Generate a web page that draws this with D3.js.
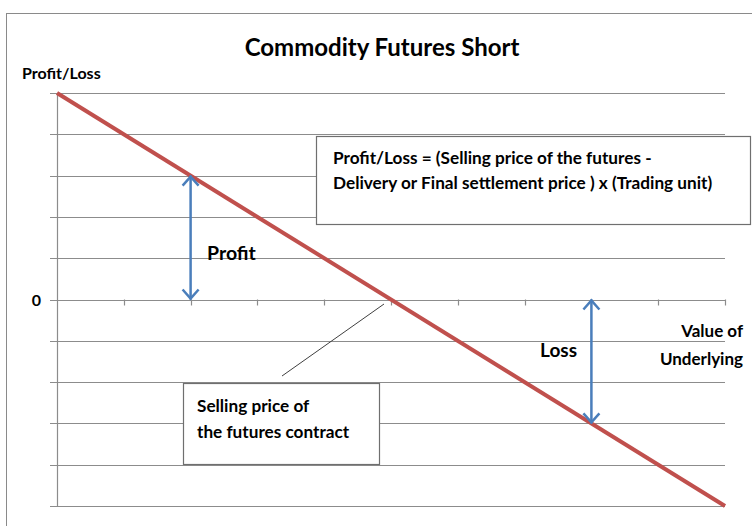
<!DOCTYPE html>
<html>
<head>
<meta charset="utf-8">
<script src="https://cdn.jsdelivr.net/npm/d3@7"></script>
<style>
  body { margin: 0; background: #fff; }
  svg text { font-family: Lato, "Open Sans", sans-serif; font-weight: bold; fill: #000; }
</style>
</head>
<body>
<svg id="chart" width="752" height="526"></svg>
<script>
'use strict';

// values of the underlying (x) and profit/loss (y)
const xTicks   = [0, 1, 2, 3, 4, 5, 6, 7, 8, 9, 10];
const yTicks   = [5, 4, 3, 2, 1, 0, -1, -2, -3, -4, -5];
const payoffX  = [0, 10];
const payoffY  = [5, -5];

// arrows: x position, start and end of the double arrow
const arrowX     = [2, 8];
const arrowFrom  = [0, 0];
const arrowTo    = [3, -3];
const arrowNames = ['Profit', 'Loss'];

const titleText   = 'Commodity Futures Short';
const yLabelText  = 'Profit/Loss';
const xLabelLines = ['Value of', 'Underlying'];
const formulaLines = ['Profit/Loss = (Selling price of the futures -',
                      'Delivery or Final settlement price ) x (Trading unit)'];
const calloutLines = ['Selling price of', 'the futures contract'];

const svg = d3.select('#chart');

// outer frame
svg.append('rect')
    .attr('x', 6.5).attr('y', 13.5)
    .attr('width', 800).attr('height', 600)
    .style('fill', 'none')
    .style('stroke', '#8a8a8a')
    .style('stroke-width', 1);

// scales
const x = d3.scaleLinear().domain([0, 10]).range([57, 725]);
const y = d3.scaleLinear().domain([-5, 5]).range([506, 93]);

// horizontal gridlines
svg.append('g')
  .selectAll('line')
    .data(yTicks)
  .enter().append('line')
    .attr('x1', 50).attr('x2', x(10))
    .attr('y1', (d) => Math.round(y(d)) + 0.5)
    .attr('y2', (d) => Math.round(y(d)) + 0.5)
    .style('stroke', '#8c8c8c')
    .style('stroke-width', 1.2);

// vertical axis
svg.append('line')
    .attr('x1', x(0) + 0.5).attr('x2', x(0) + 0.5)
    .attr('y1', y(5)).attr('y2', y(-5))
    .style('stroke', '#8c8c8c')
    .style('stroke-width', 1.2);

// x axis ticks on the zero line
svg.append('g')
  .selectAll('line')
    .data(xTicks.slice(1))
  .enter().append('line')
    .attr('x1', (d) => Math.round(x(d)) + 0.5)
    .attr('x2', (d) => Math.round(x(d)) + 0.5)
    .attr('y1', y(0)).attr('y2', y(0) + 6)
    .style('stroke', '#8c8c8c')
    .style('stroke-width', 1.2);

// zero label
svg.append('text')
    .attr('x', 41).attr('y', y(0) + 6)
    .style('text-anchor', 'end')
    .style('font-size', '16px')
    .text('0');

// title
svg.append('text')
    .attr('x', 382).attr('y', 56)
    .style('text-anchor', 'middle')
    .style('font-size', '24px')
    .text(titleText);

// y label
svg.append('text')
    .attr('x', 22).attr('y', 79)
    .style('font-size', '16px')
    .text(yLabelText);

// x label
svg.append('g')
  .selectAll('text')
    .data(xLabelLines)
  .enter().append('text')
    .attr('x', 743)
    .attr('y', (d, i) => 337 + i * 28)
    .style('text-anchor', 'end')
    .style('font-size', '17px')
    .text((d) => d);

// callout leader line
svg.append('line')
    .attr('x1', 282).attr('y1', 376)
    .attr('x2', 384).attr('y2', 304)
    .style('stroke', '#404040')
    .style('stroke-width', 1);

// text boxes
function textBox(x0, y0, w, h, lines, tx, ty, dy, size) {
  svg.append('rect')
      .attr('x', x0 + 0.5).attr('y', y0 + 0.5)
      .attr('width', w).attr('height', h)
      .style('fill', '#fff')
      .style('stroke', '#6f6f6f')
      .style('stroke-width', 1.2);
  svg.append('g')
    .selectAll('text')
      .data(lines)
    .enter().append('text')
      .attr('x', tx)
      .attr('y', (d, i) => ty + i * dy)
      .style('font-size', size)
      .text((d) => d);
}

textBox(316, 136, 434, 88, formulaLines, 333, 164, 25, '17.2px');
textBox(183, 383, 196, 81, calloutLines, 197, 412, 26, '17.2px');

// payoff line
const line = d3.line()
    .x((d, i) => x(payoffX[i]))
    .y((d) => y(d));

svg.append('path')
    .datum(payoffY)
    .attr('d', line)
    .style('fill', 'none')
    .style('stroke', '#c0504d')
    .style('stroke-width', 4);

// double arrows
const blue = '#4a7ebb';
arrowX.forEach((ax, i) => {
  const g = svg.append('g');
  const px = x(ax), y0 = y(arrowFrom[i]), y1 = y(arrowTo[i]);
  g.append('line')
      .attr('x1', px).attr('x2', px)
      .attr('y1', y0).attr('y2', y1)
      .style('stroke', blue)
      .style('stroke-width', 2.5);
  [[y0, y1], [y1, y0]].forEach(([tip, other]) => {
    const dir = other > tip ? 1 : -1;
    g.append('path')
        .attr('d', `M${px - 8},${tip + dir * 10} L${px},${tip + dir * 1} L${px + 8},${tip + dir * 10}`)
        .style('fill', 'none')
        .style('stroke', blue)
        .style('stroke-width', 2.5);
  });
});

// arrow labels
svg.append('text')
    .attr('x', 207).attr('y', 260)
    .style('font-size', '19.5px')
    .text(arrowNames[0]);

svg.append('text')
    .attr('x', 540).attr('y', 357)
    .style('font-size', '19px')
    .text(arrowNames[1]);
</script>
</body>
</html>
